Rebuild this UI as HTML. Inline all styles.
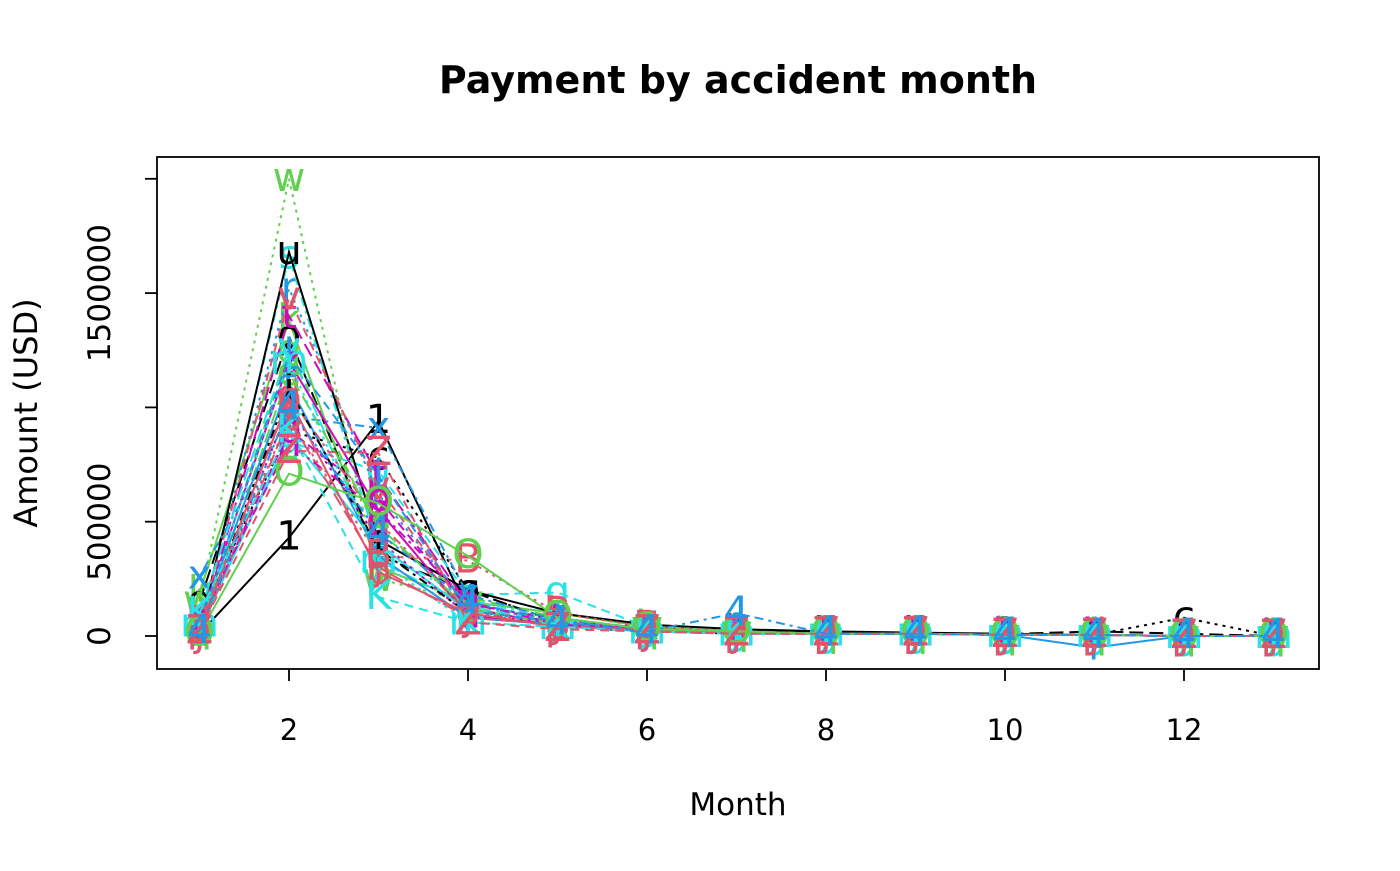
<!DOCTYPE html>
<html><head><meta charset="utf-8"><style>
body{margin:0;background:#fff}
svg text{font-family:"DejaVu Sans","Liberation Sans",sans-serif}
</style></head><body>
<svg id="chart" width="1400" height="866" xmlns="http://www.w3.org/2000/svg">
<text x="738" y="93" text-anchor="middle" style="font-size:38px;font-weight:bold">Payment by accident month</text>
<rect x="157" y="157" width="1162" height="512" fill="none" stroke="#000" stroke-width="1.8"/>
<g id="marks"></g>
<g id="axes"></g>
<text x="738" y="815" text-anchor="middle" style="font-size:31px">Month</text>
<text transform="translate(37,413) rotate(-90)" text-anchor="middle" style="font-size:32px">Amount (USD)</text>
</svg>
<script>
const months = [1,2,3,4,5,6,7,8,9,10,11,12,13];
const xTicks = [2,4,6,8,10,12];
const yTicks = [0,500000,1000000,1500000,2000000];
const yTickLabels = ["0","500000","","1500000",""];
const seriesLabels = ["1","c","g","k","o","q","r","s","t","u","v","w","x","y","z","a","b","d","e","f","h","i","j","l","m","n","p","B","K","O","Z","4"];
// values in thousands USD
const s1 = [10,430,940,110,60,30,20,15,10,10,5,0,0];
const sc = [80,900,780,200,60,40,20,15,10,8,5,80,0];
const sg = [60,850,720,180,190,40,20,10,10,8,5,0,0];
const sk = [190,1380,300,150,100,40,20,10,10,8,5,0,0];
const so = [150,1310,350,200,60,30,15,10,10,8,20,10,0];
const sq = [30,1250,450,170,80,30,20,10,10,5,5,0,0];
const sr = [50,1520,620,130,80,30,20,10,10,5,5,0,0];
const ss = [30,1660,380,160,70,30,20,10,10,5,5,0,0];
const st = [20,1400,700,140,70,30,20,10,10,5,5,0,0];
const su = [20,1680,420,200,100,50,30,20,15,10,5,0,0];
const sv = [40,1480,650,120,60,30,20,10,10,5,5,0,0];
const sw = [150,2000,250,150,60,40,20,10,10,5,5,0,0];
const sx = [260,960,910,180,70,30,20,10,10,5,5,0,0];
const sy = [100,1260,330,130,60,30,15,10,10,5,5,0,0];
const sz = [60,1200,550,90,50,30,15,10,10,5,5,0,0];
const sa = [20,880,400,110,60,30,20,10,10,5,5,0,0];
const sb = [40,900,600,120,50,30,15,10,10,5,5,0,0];
const sd = [30,1050,500,100,60,30,15,10,10,5,5,0,0];
const se = [20,1150,480,120,50,30,15,10,10,5,5,0,0];
const sf = [60,1100,350,80,50,30,15,10,10,5,-50,0,0];
const sh = [30,1000,420,90,60,30,20,10,10,5,5,0,0];
const si = [20,1080,380,100,40,20,10,10,10,5,5,0,0];
const sj = [10,950,300,80,50,20,10,10,10,5,5,0,0];
const sl = [40,1230,700,110,60,30,15,10,10,5,5,0,0];
const sm = [50,1200,330,60,40,20,10,10,10,5,5,0,0];
const sn = [70,840,550,150,50,30,15,10,10,5,5,0,0];
const sp = [30,1040,280,100,40,30,15,10,10,5,5,0,0];
const sB = [60,950,350,330,100,40,20,10,10,5,5,0,0];
const sK = [100,900,170,60,40,20,10,10,10,5,5,0,0];
const sO = [10,710,580,350,80,30,20,10,10,5,5,0,0];
const sZ = [20,810,800,60,30,20,10,10,10,5,5,0,0];
const s4 = [20,1000,450,150,60,20,100,10,10,5,5,0,0];
const seriesValues = [s1,sc,sg,sk,so,sq,sr,ss,st,su,sv,sw,sx,sy,sz,sa,sb,sd,se,sf,sh,si,sj,sl,sm,sn,sp,sB,sK,sO,sZ,s4];

const pchOrder = "1234567890abcdefghijklmnopqrstuvwxyzABCDEFGHIJKLMNOPQRSTUVWXYZ";
const pal = ["#000000","#DF536B","#61D04F","#2297E6","#28E2E5","#CD0BBC"];
const dashes = ["", "9,6", "3,5", "3,5,9,5", "14,6"];
const xs = m => 199.5 + (m-1)*89.5;
const ys = v => 636 - v*114.3/500000;
const NS = "http://www.w3.org/2000/svg";
const marks = document.getElementById('marks');
const axes = document.getElementById('axes');

seriesValues.forEach((vals, i) => {
  const lab = seriesLabels[i];
  const idx = pchOrder.indexOf(lab);
  const col = pal[idx % 6];
  const g = document.createElementNS(NS,'g');
  
  
  const pl = document.createElementNS(NS,'polyline');
  
  
  pl.setAttribute('points', vals.map((v,j)=>xs(months[j])+','+ys(v*1000)).join(' '));
  pl.setAttribute('fill','none');
  pl.setAttribute('stroke',col);
  pl.setAttribute('stroke-width','2');
  const d = dashes[idx % 5];
  if (d) pl.setAttribute('stroke-dasharray', d);
  g.appendChild(pl);
  vals.forEach((v,j) => {
    const t = document.createElementNS(NS,'text');
    
    
    t.setAttribute('x', xs(months[j]));
    t.setAttribute('y', ys(v*1000)+12);
    t.setAttribute('text-anchor','middle');
    t.setAttribute('style','font-size:40px');
    t.setAttribute('fill',col);
    t.textContent = lab;
    g.appendChild(t);
  });
  marks.appendChild(g);
});

xTicks.forEach(m => {
  const l = document.createElementNS(NS,'line');
  
  
  l.setAttribute('x1',xs(m)); l.setAttribute('x2',xs(m));
  l.setAttribute('y1',669); l.setAttribute('y2',681);
  l.setAttribute('stroke','#000'); l.setAttribute('stroke-width','1.8');
  axes.appendChild(l);
  const t = document.createElementNS(NS,'text');
  
  
  t.setAttribute('x',xs(m)); t.setAttribute('y',740);
  t.setAttribute('text-anchor','middle'); t.setAttribute('style','font-size:29px');
  t.textContent = m;
  axes.appendChild(t);
});
yTicks.forEach((v,i) => {
  const l = document.createElementNS(NS,'line');
  
  
  l.setAttribute('x1',145); l.setAttribute('x2',157);
  l.setAttribute('y1',ys(v)); l.setAttribute('y2',ys(v));
  l.setAttribute('stroke','#000'); l.setAttribute('stroke-width','1.8');
  axes.appendChild(l);
  const t = document.createElementNS(NS,'text');
  
  
  t.setAttribute('transform','translate(110,'+ys(v)+') rotate(-90)');
  t.setAttribute('text-anchor','middle'); t.setAttribute('style','font-size:31px');
  t.textContent = yTickLabels[i];
  axes.appendChild(t);
});
</script>
</body></html>
